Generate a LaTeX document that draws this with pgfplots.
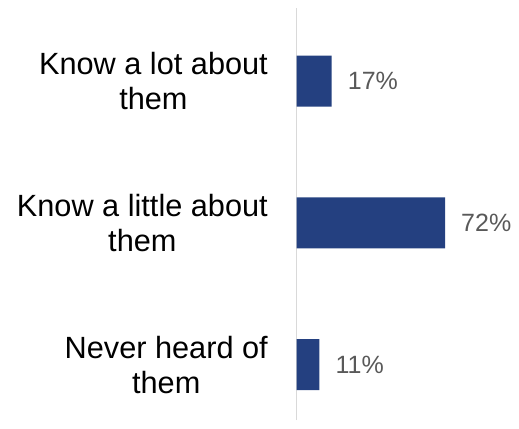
\documentclass[border=0pt]{standalone}
\usepackage{pgfplots}
\pgfplotsset{compat=1.18}
\usepackage{fontspec}
\setmainfont{Liberation Sans}
\definecolor{barblue}{HTML}{244080}
\definecolor{valgray}{HTML}{595959}
\definecolor{axgray}{HTML}{D9D9D9}
\begin{document}
\begin{tikzpicture}
\useasboundingbox (0,0) rectangle (519bp,429bp);
\begin{axis}[
  at={(296.7bp,9bp)}, anchor=south west,
  scale only axis,
  width=206bp, height=412bp,
  xbar, bar width=51bp,
  xmin=0, xmax=100,
  ymin=-0.39, ymax=2.515,
  axis x line=none,
  axis y line=left,
  axis line style={-, draw=axgray, line width=1bp},
  ytick={0,1,2},
  yticklabels={Never heard of\\them, Know a little about\\them, Know a lot about\\them},
  major tick length=0pt,
  /pgf/number format/assume math mode=true,
  yticklabel style={align=center, inner sep=0pt, xshift=-28.7bp, text=black,
    font=\fontsize{30.7bp}{35bp}\selectfont},
  clip=false,
  nodes near coords={\pgfmathprintnumber[assume math mode=true]{\pgfplotspointmeta}\%},
  nodes near coords style={anchor=west, inner sep=0pt, xshift=16bp, text=valgray,
    font=\fontsize{25bp}{30bp}\selectfont},
]
\addplot[fill=barblue, draw=none] coordinates {(11,0) (72,1) (17,2)};
\end{axis}
\end{tikzpicture}
\end{document}
